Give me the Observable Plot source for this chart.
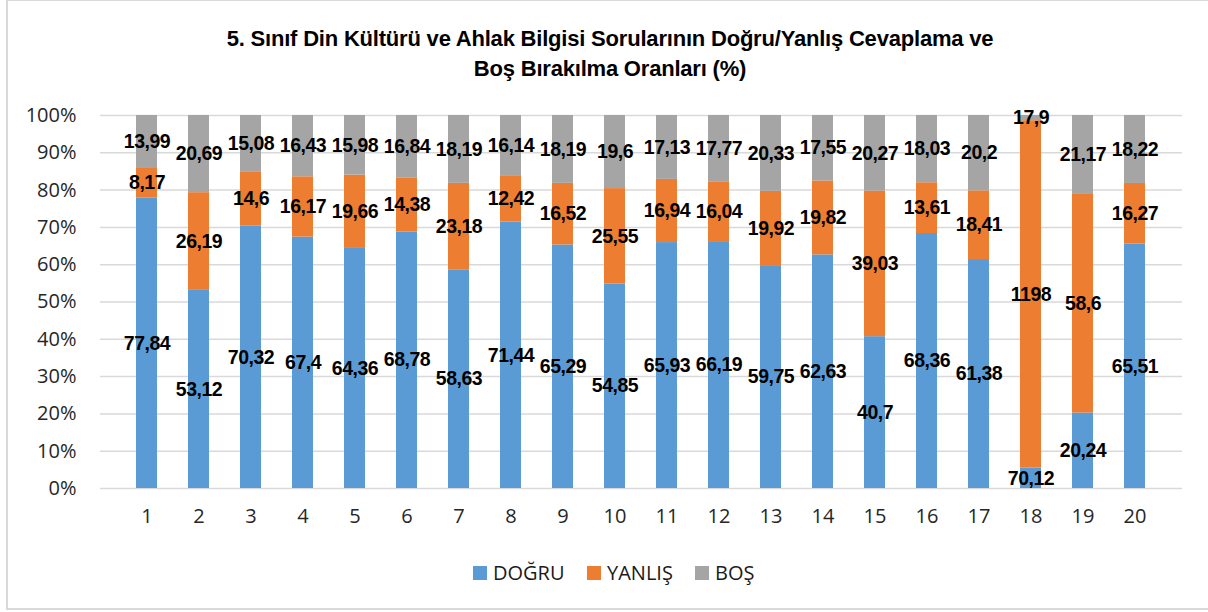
<!DOCTYPE html>
<html>
<head>
<meta charset="utf-8">
<script src="https://cdn.jsdelivr.net/npm/d3@7"></script>
<script src="https://cdn.jsdelivr.net/npm/@observablehq/plot@0.6"></script>
<style>
  html, body { margin: 0; padding: 0; background: #fff; }
  #wrap { position: relative; width: 1208px; height: 612px; overflow: hidden; background: #fff; }
  #frame { position: absolute; left: 6px; top: -1px; width: 1210px; height: 611px; border: 2px solid #d9d9d9; box-sizing: border-box; }
  #title { position: absolute; left: 0; top: 24px; width: 1220px; text-align: center;
           font-family: "Liberation Sans", Arial, sans-serif; font-weight: bold; font-size: 22px;
           line-height: 30px; color: #000; letter-spacing: -0.2px; }
  #chart { position: absolute; left: 0; top: 95px; }
  #legend { position: absolute; top: 560px; left: 0; width: 1208px; height: 26px;
            font-family: "Open Sans", sans-serif; font-size: 20px; color: #1a1a1a; }
  .item { position: absolute; top: 0; height: 26px; line-height: 26px; white-space: nowrap; }
  .sw { position: absolute; top: 6px; width: 14px; height: 14px; }
  .lbl text { letter-spacing: -0.5px; }
</style>
</head>
<body>
<div id="wrap">
  <div id="frame"></div>
  <div id="title">5. Sınıf Din Kültürü ve Ahlak Bilgisi Sorularının Doğru/Yanlış Cevaplama ve<br>Boş Bırakılma Oranları (%)</div>
  <div id="chart"></div>
  <div id="legend"></div>
</div>
<script>
const questions = ["1","2","3","4","5","6","7","8","9","10","11","12","13","14","15","16","17","18","19","20"];
const series = ["DOĞRU", "YANLIŞ", "BOŞ"];
const colors = ["#5b9bd5", "#ed7d31", "#a5a5a5"];
const dogru  = [77.84, 53.12, 70.32, 67.4, 64.36, 68.78, 58.63, 71.44, 65.29, 54.85, 65.93, 66.19, 59.75, 62.63, 40.7, 68.36, 61.38, 70.12, 20.24, 65.51];
const yanlis = [8.17, 26.19, 14.6, 16.17, 19.66, 14.38, 23.18, 12.42, 16.52, 25.55, 16.94, 16.04, 19.92, 19.82, 39.03, 13.61, 18.41, 1198, 58.6, 16.27];
const bos    = [13.99, 20.69, 15.08, 16.43, 15.98, 16.84, 18.19, 16.14, 18.19, 19.6, 17.13, 17.77, 20.33, 17.55, 20.27, 18.03, 20.2, 17.9, 21.17, 18.22];
const yTicks = [0, 0.1, 0.2, 0.3, 0.4, 0.5, 0.6, 0.7, 0.8, 0.9, 1];

const valuesBySeries = [dogru, yanlis, bos];
const data = [];
series.forEach((s, si) => {
  questions.forEach((q, qi) => {
    data.push({q, series: s, value: valuesBySeries[si][qi]});
  });
});
const fmt = v => String(v).replace(".", ",");

const stackOpts = {x: "q", y: "value", z: "series", offset: "normalize", order: series};
const axisFont = "'Open Sans', sans-serif";

const plot = Plot.plot({
  width: 1208,
  height: 445,
  marginLeft: 100,
  marginRight: 26,
  marginTop: 20,
  marginBottom: 52,
  style: {fontFamily: axisFont, fontSize: "20px", color: "#262626", background: "transparent"},
  x: {domain: questions, padding: 0.593, label: null},
  y: {domain: [0, 1], label: null},
  color: {domain: series, range: colors},
  marks: [
    Plot.ruleY(yTicks, {stroke: "#d9d9d9", strokeWidth: 1.5, strokeOpacity: 1}),
    Plot.axisY({ticks: yTicks, tickFormat: d3.format(".0%"), tickSize: 0, tickPadding: 24,
      fontSize: 20, fontFamily: axisFont, fill: "#262626", label: null}),
    Plot.axisX({tickSize: 0, tickPadding: 20, fontSize: 20, fontFamily: axisFont, fill: "#262626", label: null}),
    Plot.barY(data, Plot.stackY({...stackOpts, fill: "series"})),
    Plot.text(data, Plot.stackY({...stackOpts, text: d => fmt(d.value), className: "lbl",
      fontFamily: "'Liberation Sans', Arial, sans-serif", fontWeight: "bold", fontSize: 19.5, fill: "#000"}))
  ]
});
document.getElementById("chart").appendChild(plot);

// legend
const legend = document.getElementById("legend");
const positions = [473, 587, 695];
series.forEach((s, i) => {
  const it = document.createElement("div");
  it.className = "item";
  it.style.left = positions[i] + "px";
  it.innerHTML = `<span class="sw" style="left:0;background:${colors[i]}"></span><span style="position:absolute;left:20px;">${s}</span>`;
  legend.appendChild(it);
});
</script>
</body>
</html>
